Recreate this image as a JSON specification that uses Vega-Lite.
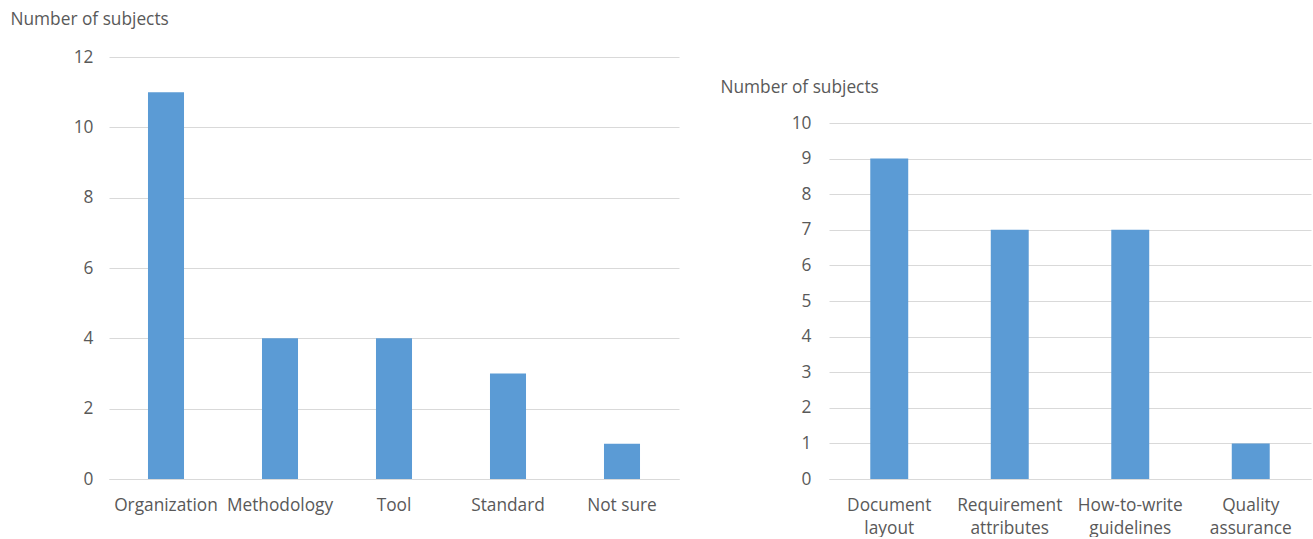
{
  "$schema": "https://vega.github.io/schema/vega-lite/v6.json",
  "background": "white",
  "padding": {"left": 10, "top": 10, "right": 2, "bottom": 0},
  "spacing": 150,
  "bounds": "flush",
  "config": {
    "view": {"stroke": null},
    "font": "Open Sans",
    "axis": {
      "labelFont": "Open Sans",
      "labelFontSize": 17.3,
      "labelColor": "#595959",
      "titleFont": "Open Sans",
      "titleFontSize": 17.3,
      "titleFontWeight": "normal",
      "titleColor": "#595959",
      "gridColor": "#d9d9d9",
      "domainColor": "#d9d9d9",
      "ticks": false
    }
  },
  "hconcat": [
    {
      "width": 570,
      "height": 422,
      "data": {"values": [
        {"category": "Organization", "count": 11},
        {"category": "Methodology", "count": 4},
        {"category": "Tool", "count": 4},
        {"category": "Standard", "count": 3},
        {"category": "Not sure", "count": 1}
      ]},
      "mark": {"type": "bar", "color": "#5B9BD5"},
      "encoding": {
        "x": {"field": "category", "type": "nominal", "sort": null,
          "scale": {"paddingInner": 0.684, "paddingOuter": 0.342},
          "axis": {"title": null, "labelAngle": 0, "labelPadding": 17, "grid": false, "domain": true, "labelOverlap": false}},
        "y": {"field": "count", "type": "quantitative",
          "scale": {"domain": [0, 12], "nice": false},
          "axis": {"values": [0, 2, 4, 6, 8, 10, 12], "title": "Number of subjects",
            "titleAngle": 0, "titleX": -99, "titleY": -47, "titleAlign": "left", "titleBaseline": "top",
            "domain": false, "labelPadding": 16}}
      }
    },
    {
      "width": 482,
      "height": 422,
      "data": {"values": [
        {"category": "Document layout", "count": 9},
        {"category": "Requirement attributes", "count": 7},
        {"category": "How-to-write guidelines", "count": 7},
        {"category": "Quality assurance", "count": 1}
      ]},
      "mark": {"type": "bar", "color": "#5B9BD5"},
      "encoding": {
        "x": {"field": "category", "type": "nominal", "sort": null,
          "scale": {"paddingInner": 0.685, "paddingOuter": 0.3425},
          "axis": {"title": null, "labelAngle": 0, "labelPadding": 17, "grid": false, "domain": true, "labelOverlap": false,
            "labelExpr": "split(datum.label, ' ')", "labelLineHeight": 23}},
        "y": {"field": "count", "type": "quantitative",
          "scale": {"domain": [0, 10], "nice": false, "range": [422, 66]},
          "axis": {"values": [0, 1, 2, 3, 4, 5, 6, 7, 8, 9, 10], "title": "Number of subjects",
            "titleAngle": 0, "titleX": -109, "titleY": 21, "titleAlign": "left", "titleBaseline": "top",
            "domain": false, "labelPadding": 18}}
      }
    }
  ]
}
